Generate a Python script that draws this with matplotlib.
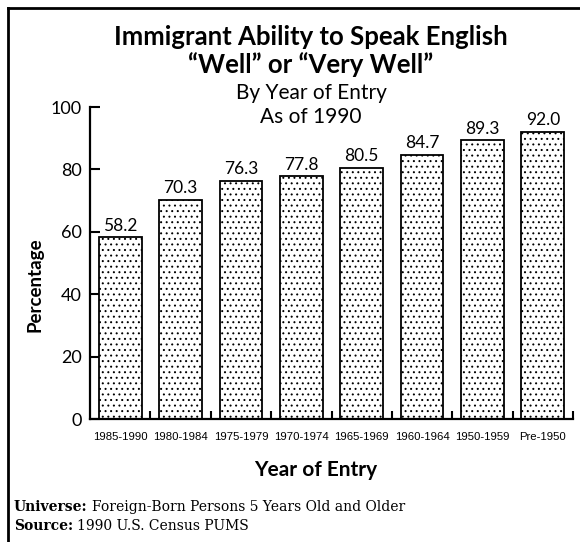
import matplotlib
matplotlib.use("Agg")
import matplotlib.pyplot as plt
from matplotlib.lines import Line2D
from matplotlib.ticker import FixedLocator

categories = ["1985-1990", "1980-1984", "1975-1979", "1970-1974",
              "1965-1969", "1960-1964", "1950-1959", "Pre-1950"]
values = [58.2, 70.3, 76.3, 77.8, 80.5, 84.7, 89.3, 92.0]
yticks = [0, 20, 40, 60, 80, 100]

plt.rcParams['hatch.color'] = 'black'
plt.rcParams['hatch.linewidth'] = 0.7

W, H = 580, 542
fig = plt.figure(figsize=(W / 100, H / 100), dpi=100)
ax = fig.add_axes([90 / W, 1 - 419 / H, (573 - 90) / W, (419 - 107) / H])

x = list(range(len(categories)))
ax.bar(x, values, width=0.71, facecolor='white', edgecolor='black',
       linewidth=1.3, hatch='...', zorder=2)
for xi, v in zip(x, values):
    ax.text(xi, v + 1.2, f"{v:.1f}", ha='center', va='bottom',
            fontsize=12.5, family=['Lato', 'DejaVu Sans'])

ax.set_xlim(-0.5, 7.5)
ax.set_ylim(0, 100)
ax.set_yticks(yticks)
ax.set_yticklabels([str(t) for t in yticks], fontsize=13, family=['Lato', 'DejaVu Sans'])
ax.set_xticks(x)
xlabels = ax.set_xticklabels(categories, fontsize=10, family=['Liberation Sans', 'DejaVu Sans'])
ax.xaxis.set_minor_locator(FixedLocator([i + 0.5 for i in range(len(categories))]))
ax.tick_params(axis='x', which='major', length=0, pad=9)
ax.tick_params(axis='x', which='minor', direction='in', length=6, width=1.5)
ax.tick_params(axis='y', direction='in', length=7, width=1.5, pad=6)
for s in ['top', 'right']:
    ax.spines[s].set_visible(False)
for s in ['left', 'bottom']:
    ax.spines[s].set_linewidth(1.6)

# shrink x tick labels until they fit the bar pitch
fig.canvas.draw()
r = fig.canvas.get_renderer()
maxw = max(t.get_window_extent(r).width for t in xlabels)
if maxw > 54:
    fs = 10 * 54 / maxw
    for t in xlabels:
        t.set_fontsize(fs)

fig.text(35 / W, 1 - 285 / H, "Percentage", rotation=90, ha='center', va='center',
         fontsize=13.5, fontweight='bold', family=['Lato', 'DejaVu Sans'])
fig.text(316 / W, 1 - 470 / H, "Year of Entry", ha='center', va='center',
         fontsize=15, fontweight='bold', family=['Lato', 'DejaVu Sans'])

fig.text(311 / W, 1 - 37 / H, "Immigrant Ability to Speak English", ha='center', va='center',
         fontsize=18.5, fontweight='bold', family=['Lato', 'DejaVu Sans'])
fig.text(311 / W, 1 - 65 / H, "\u201cWell\u201d or \u201cVery Well\u201d", ha='center', va='center',
         fontsize=18.5, fontweight='bold', family=['Lato', 'DejaVu Sans'])
fig.text(311 / W, 1 - 93 / H, "By Year of Entry", ha='center', va='center',
         fontsize=15, family=['Lato', 'DejaVu Sans'])
fig.text(311 / W, 1 - 117 / H, "As of 1990", ha='center', va='center',
         fontsize=15, family=['Lato', 'DejaVu Sans'])

foot_font = ['DejaVu Serif']
t1 = fig.text(14 / W, 1 - 507 / H, "Universe:", ha='left', va='center',
              fontsize=10, fontweight='bold', family=foot_font)
t2 = fig.text(14 / W, 1 - 526 / H, "Source:", ha='left', va='center',
              fontsize=10, fontweight='bold', family=foot_font)
fig.canvas.draw()
r = fig.canvas.get_renderer()
b1 = t1.get_window_extent(r)
b2 = t2.get_window_extent(r)
fig.text((b1.x1 + 4) / W, 1 - 507 / H, "Foreign-Born Persons 5 Years Old and Older",
         ha='left', va='center', fontsize=10, family=foot_font)
fig.text((b2.x1 + 4) / W, 1 - 526 / H, "1990 U.S. Census PUMS",
         ha='left', va='center', fontsize=10, family=foot_font)

fig.add_artist(Line2D([8 / W, 8 / W], [0, 1 - 8 / H], color='black', linewidth=2))
fig.add_artist(Line2D([8 / W, 1], [1 - 8 / H, 1 - 8 / H], color='black', linewidth=2))

fig.savefig("out.png", dpi=100)
